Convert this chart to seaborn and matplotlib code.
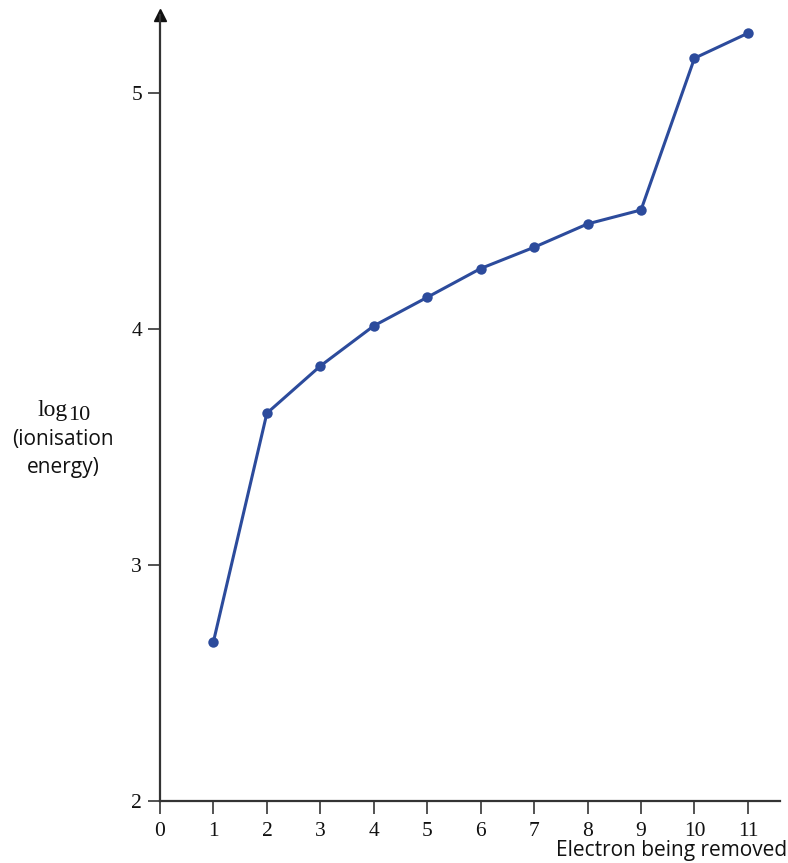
import matplotlib
matplotlib.use("Agg")
import matplotlib.pyplot as plt
import seaborn as sns
import pandas as pd

electron = [1, 2, 3, 4, 5, 6, 7, 8, 9, 10, 11]
log_ie = [2.675, 3.643, 3.843, 4.013, 4.134, 4.256, 4.346, 4.445, 4.504, 5.147, 5.253]
x_ticks = list(range(0, 12))
y_ticks = [2, 3, 4, 5]

df = pd.DataFrame({"electron": electron, "log_ie": log_ie})

sns.set_style("white")
plt.rcParams["font.family"] = ["DejaVu Sans"]

fig = plt.figure(figsize=(7.88, 8.63), dpi=100)
ax = fig.add_axes([160 / 788, 62 / 863, 620 / 788, 786 / 863])

line_color = "#2c4b9c"
sns.lineplot(data=df, x="electron", y="log_ie", ax=ax, color=line_color,
             marker="o", markersize=7.5, markeredgewidth=0, linewidth=2.2)

ax.set_xlim(0, 11.6)
ax.set_ylim(2, 5.33)
for s in ["top", "right"]:
    ax.spines[s].set_visible(False)
for s in ["left", "bottom"]:
    ax.spines[s].set_color("#333333")
    ax.spines[s].set_linewidth(1.6)

ax.set_xticks(x_ticks)
ax.set_yticks(y_ticks)
ax.set_xticklabels([str(t) for t in x_ticks], family="Liberation Serif", fontsize=15.5)
ax.set_yticklabels([str(t) for t in y_ticks], family="Liberation Serif", fontsize=15.5)
ax.tick_params(axis="both", direction="out", length=9, width=1.3, color="#444444",
               labelcolor="#111111", bottom=True, left=True)
ax.tick_params(axis="x", pad=6)
ax.tick_params(axis="y", pad=4)

# axis arrows
ax.plot(1, 0, ">", color="#111111", markersize=8, transform=ax.get_yaxis_transform(), clip_on=False)
ax.plot(0, 1, "^", color="#111111", markersize=8, transform=ax.get_xaxis_transform(), clip_on=False)

ax.set_xlabel("")
ax.set_ylabel("")

fig.text(68 / 788, 1 - 416 / 863, "log", family="Liberation Serif", fontsize=17,
         ha="right", va="baseline", color="#111111")
fig.text(68 / 788, 1 - 420 / 863, "10", family="Liberation Serif", fontsize=16,
         ha="left", va="baseline", color="#111111")
fig.text(63 / 788, 1 - 439 / 863, "(ionisation", family="Open Sans", fontsize=15,
         ha="center", va="center", color="#111111")
fig.text(63 / 788, 1 - 467 / 863, "energy)", family="Open Sans", fontsize=15,
         ha="center", va="center", color="#111111")
fig.text(787 / 788, 1 - 850 / 863, "Electron being removed", family="Open Sans", fontsize=15,
         ha="right", va="center", color="#111111")

fig.savefig("out.png", dpi=100, facecolor="white")
